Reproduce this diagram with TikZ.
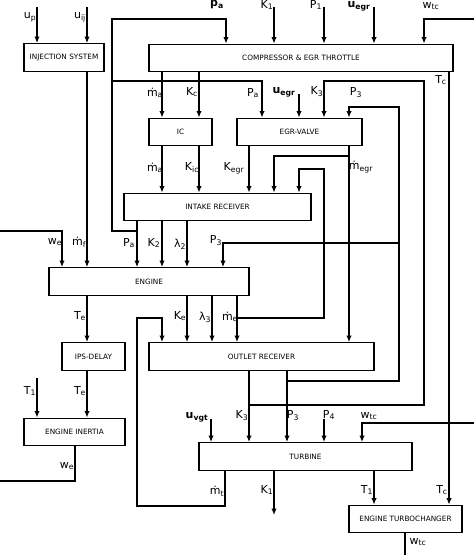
\documentclass[tikz,border=0pt]{standalone}
\usepackage{fontspec}
\setmainfont{DejaVu Sans}
\usetikzlibrary{arrows.meta}

\tikzset{
  >={Latex[length=6.5pt,width=5.5pt]},   % default arrow tip
  blk/.style={draw, line width=1.4pt, minimum height=27.5pt, inner sep=0pt,
              font=\fontsize{7.3}{8}\selectfont},
  wire/.style={line width=1.4pt},
  lbl/.style={font=\fontsize{11}{12}\selectfont, inner sep=0pt}
}
\newcommand{\sig}[2]{#1\textsubscript{#2}}
\newcommand{\bsig}[2]{\textbf{#1}\textsubscript{\textbf{#2}}}

\begin{document}
\begin{tikzpicture}[x=1pt,y=-1pt]
\useasboundingbox (0,0) rectangle (474,555);

%==================== blocks ====================
\node[blk, minimum width=80pt]  (inj)     at (64,57.5)   {INJECTION SYSTEM};
\node[blk, minimum width=304pt] (comp)    at (301,58)    {COMPRESSOR \& EGR THROTTLE};
\node[blk, minimum width=63pt]  (ic)      at (180.5,132) {IC};
\node[blk, minimum width=125pt] (egr)     at (299.5,132) {EGR-VALVE};
\node[blk, minimum width=187pt] (intake)  at (217.5,207) {INTAKE RECEIVER};
\node[blk, minimum width=200pt] (engine)  at (149,281.5) {ENGINE};
\node[blk, minimum width=63pt]  (ips)     at (93.5,356.5) {IPS-DELAY};
\node[blk, minimum width=225pt] (outlet)  at (261.5,356.5) {OUTLET RECEIVER};
\node[blk, minimum width=101pt] (inertia) at (74.5,432)  {ENGINE INERTIA};
\node[blk, minimum width=213pt] (turbine) at (305.5,456.5) {TURBINE};
\node[blk, minimum width=113pt] (tc)      at (405.5,519) {ENGINE TURBOCHANGER};

%==================== free ends ====================
\coordinate (up)      at (37,7);
\coordinate (uij)     at (87,7);
\coordinate (k1in)    at (274,7);
\coordinate (p1in)    at (324,7);
\coordinate (uegrin)  at (374,7);
\coordinate (wtcin)   at (474,19);
\coordinate (uegrv)   at (299,94);
\coordinate (wein)    at (0,231);
\coordinate (t1in)    at (37,378);
\coordinate (uvgt)    at (211,419);
\coordinate (p4in)    at (324,419);
\coordinate (wtcturb) at (474,423);
\coordinate (k1out)   at (274,515);
\coordinate (weout)   at (0,481);
\coordinate (wtcout)  at (405,555);

% junctions and corners of the feedback lines
\coordinate (paJ)   at (137,231);
\coordinate (paC)   at (112,19);
\coordinate (paE)   at (112,81);
\coordinate (k3J)   at (249,405);
\coordinate (k3C)   at (424,81);
\coordinate (p3J)   at (287,381);
\coordinate (p3C)   at (399,107);
\coordinate (p3E)   at (399,243);
\coordinate (meJ)   at (237,318);
\coordinate (meC)   at (324,169);
\coordinate (megrJ) at (349,156);
\coordinate (mtC)   at (137,506);
\coordinate (mtE)   at (162,318);

%==================== inputs from the top ====================
\draw[wire,->] (up) -- (inj.north -| up) node[lbl] at (30,17) {\sig{u}{p}};
\draw[wire,->] (uij) -- (inj.north -| uij) node[lbl] at (80,17) {\sig{u}{ij}};
\draw[wire,->] (k1in) -- (comp.north -| k1in) node[lbl] at (267,5) {\sig{K}{1}};
\draw[wire,->] (p1in) -- (comp.north -| p1in) node[lbl] at (316,5) {\sig{P}{1}};
\draw[wire,->] (uegrin) -- (comp.north -| uegrin) node[lbl] at (359,6) {\bsig{u}{egr}};
\draw[wire,->] (wtcin) -| (comp.north -| k3C) node[lbl] at (431,6) {\sig{w}{tc}};

%==================== compressor ====================
\draw[wire,->] (comp.south -| 162,0) -- (ic.north -| 162,0) node[lbl] at (155,93) {\sig{ṁ}{a}};
\draw[wire,->] (comp.south -| 199,0) -- (ic.north -| 199,0) node[lbl] at (192,92) {\sig{K}{c}};
\draw[wire,->] (comp.south -| 449,0) -- (tc.north -| 449,0)
  node[lbl] at (441,80) {\sig{T}{c}} node[lbl] at (442,490) {\sig{T}{c}};

%==================== IC and EGR-valve ====================
\draw[wire,->] (uegrv) -- (egr.north -| uegrv) node[lbl] at (284,92) {\bsig{u}{egr}};
\draw[wire,->] (ic.south -| 162,0) -- (intake.north -| 162,0) node[lbl] at (155,168) {\sig{ṁ}{a}};
\draw[wire,->] (ic.south -| 199,0) -- (intake.north -| 199,0) node[lbl] at (192,168) {\sig{K}{ic}};
\draw[wire,->] (egr.south -| 249,0) -- (intake.north -| 249,0) node[lbl] at (234,168) {\sig{K}{egr}};
\draw[wire,->] (egr.south -| megrJ) -- (outlet.north -| megrJ) node[lbl] at (361,167) {\sig{ṁ}{egr}};
\draw[wire,->] (megrJ) -| (intake.north -| 274,0);

%==================== intake receiver -> engine ====================
\draw[wire,->] (intake.south -| paJ) -- (engine.north -| paJ) node[lbl] at (129,243) {\sig{P}{a}};
\draw[wire,->] (intake.south -| 162,0) -- (engine.north -| 162,0) node[lbl] at (154,243) {\sig{K}{2}};
\draw[wire,->] (intake.south -| 187,0) -- (engine.north -| 187,0) node[lbl] at (180,244) {\sig{λ}{2}};
\draw[wire,->] (paJ) -| (paC) -| (comp.north -| 226,0) node[lbl] at (217,5) {\bsig{p}{a}};
\draw[wire,->] (paE) -| (egr.north -| 262,0) node[lbl] at (253,93) {\sig{P}{a}};

%==================== engine ====================
\draw[wire,->] (wein) -| (engine.north -| 62,0) node[lbl] at (55,242) {\sig{w}{e}};
\draw[wire,->] (inj.south -| uij) -- (engine.north -| uij) node[lbl] at (79,242) {\sig{ṁ}{f}};
\draw[wire,->] (engine.south -| uij) -- (ips.north -| uij) node[lbl] at (80,316) {\sig{T}{e}};
\draw[wire,->] (engine.south -| 187,0) -- (outlet.north -| 187,0) node[lbl] at (180,316) {\sig{K}{e}};
\draw[wire,->] (engine.south -| 212,0) -- (outlet.north -| 212,0) node[lbl] at (205,317) {\sig{λ}{3}};
\draw[wire,->] (engine.south -| meJ) -- (outlet.north -| meJ) node[lbl] at (230,317) {\sig{ṁ}{e}};
\draw[wire,->] (meJ) -| (meC) -| (intake.north -| 299,0);

%==================== inertia ====================
\draw[wire,->] (ips.south -| uij) -- (inertia.north -| uij) node[lbl] at (80,391) {\sig{T}{e}};
\draw[wire,->] (t1in) -- (inertia.north -| t1in) node[lbl] at (30,391) {\sig{T}{1}};
\draw[wire] (inertia.south -| 75,0) |- (weout) node[lbl] at (67,466) {\sig{w}{e}};

%==================== outlet receiver -> turbine ====================
\draw[wire,->] (outlet.south -| k3J) -- (turbine.north -| k3J) node[lbl] at (242,416) {\sig{K}{3}};
\draw[wire,->] (k3J) -| (k3C) -| (egr.north -| 324,0) node[lbl] at (317,92) {\sig{K}{3}};
\draw[wire,->] (outlet.south -| p3J) -- (turbine.north -| p3J) node[lbl] at (293,416) {\sig{P}{3}};
\draw[wire,->] (p3J) -| (p3C) -| (egr.north -| megrJ) node[lbl] at (356,93) {\sig{P}{3}};
\draw[wire,->] (p3E) -| (engine.north -| 223,0) node[lbl] at (216,241) {\sig{P}{3}};

%==================== turbine ====================
\draw[wire,->] (uvgt) -- (turbine.north -| uvgt) node[lbl] at (197,417) {\bsig{u}{vgt}};
\draw[wire,->] (p4in) -- (turbine.north -| p4in) node[lbl] at (329,415) {\sig{P}{4}};
\draw[wire,->] (wtcturb) -| (turbine.north -| 362,0) node[lbl] at (369,416) {\sig{w}{tc}};
\draw[wire,->] (turbine.south -| 225,0) |- (mtC) |- (mtE) -- (outlet.north -| mtE)
  node[lbl] at (217,491) {\sig{ṁ}{t}};
\draw[wire,->] (turbine.south -| k1out) -- (k1out) node[lbl] at (267,490) {\sig{K}{1}};
\draw[wire,->] (turbine.south -| 374,0) -- (tc.north -| 374,0) node[lbl] at (367,490) {\sig{T}{1}};
\draw[wire] (tc.south -| wtcout) -- (wtcout) node[lbl] at (418,542) {\sig{w}{tc}};

\end{tikzpicture}
\end{document}
